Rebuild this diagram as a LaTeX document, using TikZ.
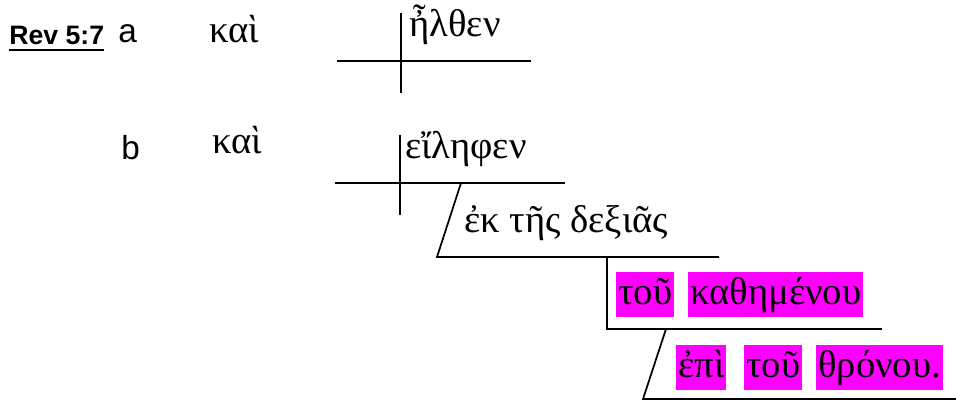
\documentclass[tikz,border=0pt]{standalone}
\usepackage{fontspec}
\setmainfont{Liberation Serif}
\newfontfamily\labelfont{Liberation Sans}
\usetikzlibrary{positioning}
\definecolor{hlmagenta}{RGB}{255,0,255}
\tikzset{
  greek/.style={font=\fontsize{29}{33}\selectfont, inner sep=0pt, anchor=base west},
  hilite/.style={greek, fill=hlmagenta, inner xsep=1.5pt, text height=24.5pt, text depth=9pt},
  verse/.style={font=\labelfont\bfseries\fontsize{20}{22}\selectfont, inner sep=0pt, anchor=base west},
  clause/.style={font=\labelfont\fontsize{25}{28}\selectfont, inner sep=0pt, anchor=base west},
  rule/.style={line width=1.3pt},
}

\begin{document}
\begin{tikzpicture}[x=0.75pt,y=-0.75pt]
\useasboundingbox (0,0) rectangle (956,402);

% Verse and clause labels.
\node[verse] (rev) at (9,45) {Rev 5:7};
\draw[line width=2.2pt] ([yshift=-3.75pt]rev.base west) -- ([yshift=-3.75pt]rev.base east);
\node[clause] (la) at (118,43) {a};
\node[clause] (lb) at (121,160) {b};

% Conjunctions.
\node[greek] (kaiA) at (209,43) {καὶ};
\node[greek] (kaiB) at (212,154) {καὶ};

% Clause a: subject / verb line.
\coordinate (a-top) at (401,13);
\coordinate (a-bot) at (401,93);
\coordinate (a-left) at (337,61);
\coordinate (a-right) at (531,61);
\draw[rule] (a-top) -- (a-bot);
\draw[rule] (a-left) -- (a-right);
\node[greek] (verbA) at (409,37) {ἦλθεν};

% Clause b: subject / verb line.
\coordinate (b-top) at (400,135);
\coordinate (b-bot) at (400,215);
\coordinate (b-left) at (335,183);
\coordinate (b-right) at (565,183);
\draw[rule] (b-top) -- (b-bot);
\draw[rule] (b-left) -- (b-right);
\node[greek] (verbB) at (405,159) {εἴληφεν};

% Prepositional phrase under the verb.
\coordinate (pp-top) at (461,183);
\coordinate (pp-bot) at (437,257);
\coordinate (pp-right) at (719,257);
\draw[rule] (pp-top) -- (pp-bot) -- (pp-right);
\node[greek] (ppA) at (464,233) {ἐκ τῆς δεξιᾶς};

% Genitive modifier (highlighted).
\coordinate (gen-top) at (607,257);
\coordinate (gen-bot) at (607,329);
\coordinate (gen-right) at (882,329);
\draw[rule] (gen-top) -- (gen-bot) -- (gen-right);
\foreach \w/\x [count=\i] in {τοῦ/616, καθημένου/688}
\node[hilite] (gen-\i) at (\x,305) {\w};

% Second prepositional phrase (highlighted).
\coordinate (pp2-top) at (666,329);
\coordinate (pp2-bot) at (643,399);
\coordinate (pp2-right) at (960,399);
\draw[rule] (pp2-top) -- (pp2-bot) -- (pp2-right);
\foreach \w/\x [count=\i] in {ἐπὶ/676, τοῦ/744, θρόνου./816}
\node[hilite] (pp2-\i) at (\x,378) {\w};
\end{tikzpicture}
\end{document}
